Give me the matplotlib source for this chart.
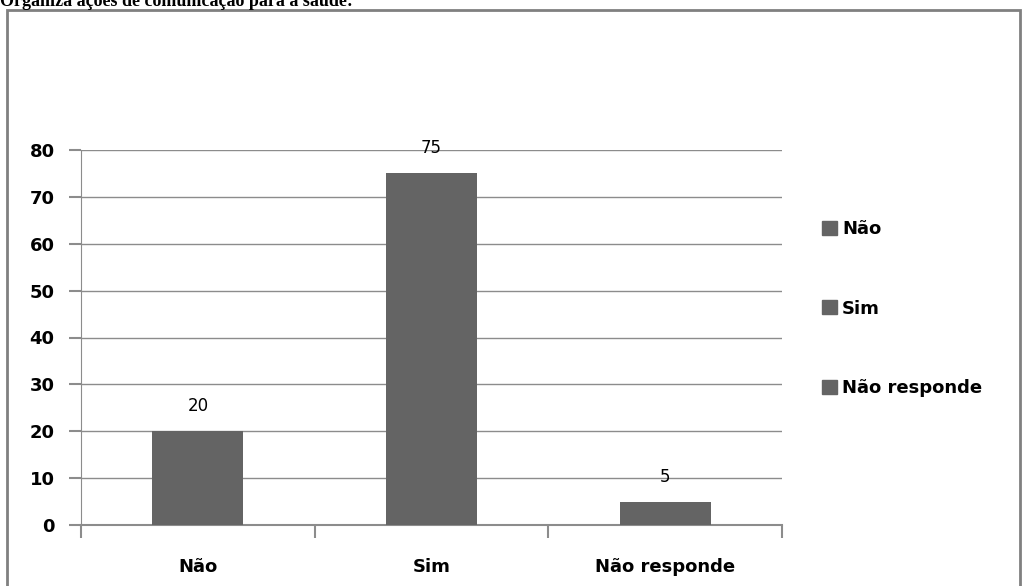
import matplotlib
matplotlib.use("Agg")
import matplotlib.pyplot as plt
from matplotlib.patches import Rectangle

categories = ["Não", "Sim", "Não responde"]
values = [20, 75, 5]
y_ticks = [0, 10, 20, 30, 40, 50, 60, 70, 80]
title = "Organiza ações de comunicação para a saúde:"

W, H = 1024, 586
bar_color = "#646464"
grid_color = "#8c8c8c"

fig = plt.figure(figsize=(W / 100, H / 100), dpi=100, facecolor="white")

# outer frame around the chart object
fig.patches.append(Rectangle((7 / W, -0.05), 1013 / W, (H - 10) / H + 0.05,
                             transform=fig.transFigure, fill=False,
                             edgecolor="#808080", linewidth=2))
fig.text(0, 1 - 6 / H, title, ha="left", va="baseline",
         family="Liberation Serif", fontweight="bold", fontsize=13)

ax = fig.add_axes([81 / W, 1 - 525 / H, (782 - 81) / W, (525 - 150) / H])
x = range(len(categories))
bars = ax.bar(x, values, width=0.39, color=bar_color, zorder=3)
ax.set_xlim(-0.5, len(categories) - 0.5)
ax.set_ylim(0, 80)
ax.set_yticks(y_ticks)
ax.set_yticklabels([str(v) for v in y_ticks], fontweight="bold", fontsize=13)
ax.yaxis.grid(True, color=grid_color, linewidth=1, zorder=0)

# category labels centred, tick marks at the category borders
ax.set_xticks([i - 0.5 for i in range(len(categories) + 1)])
ax.set_xticklabels([])
ax.tick_params(axis="x", length=9, width=1.5, color=grid_color, direction="out")
ax.tick_params(axis="y", length=9, width=1.5, color=grid_color, pad=10)
for i, c in enumerate(categories):
    ax.text(i, -0.113, c, transform=ax.get_xaxis_transform(), ha="center",
            va="center", fontweight="bold", fontsize=13)

for s in ["top", "right"]:
    ax.spines[s].set_visible(False)
ax.spines["left"].set_color(grid_color)
ax.spines["bottom"].set_color(grid_color)
ax.spines["bottom"].set_linewidth(1.5)

for b, v in zip(bars, values):
    ax.annotate(str(v), (b.get_x() + b.get_width() / 2, v),
                xytext=(0, 18), textcoords="offset points",
                ha="center", va="center", fontsize=12)

handles = [Rectangle((0, 0), 1, 1, color=bar_color) for _ in categories]
leg = fig.legend(handles, categories, loc="upper left",
                 bbox_to_anchor=(806 / W, 1 - 204 / H), frameon=False,
                 prop={"weight": "bold", "size": 13}, handlelength=0.8,
                 handleheight=0.8, handletextpad=0.3, labelspacing=3.4)

fig.savefig("out.png", dpi=100, facecolor="white")
